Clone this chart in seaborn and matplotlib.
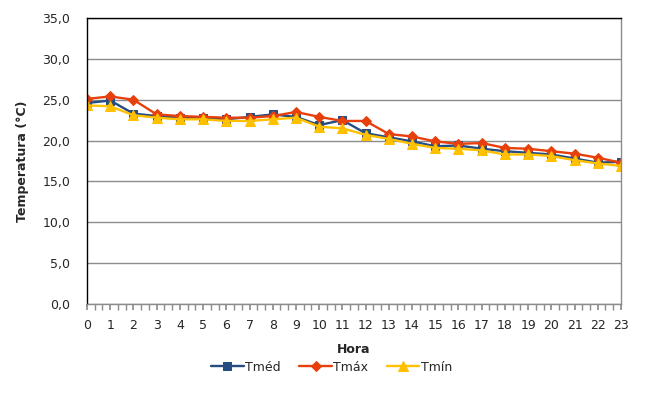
import matplotlib
matplotlib.use('Agg')
import matplotlib.pyplot as plt
import seaborn as sns
import pandas as pd
from matplotlib.ticker import FuncFormatter, MultipleLocator

# dados
horas = list(range(24))
t_med = [24.6, 24.9, 23.3, 23.0, 22.8, 22.8, 22.6, 22.9, 23.2, 22.9, 21.9, 22.5,
         20.9, 20.4, 19.9, 19.3, 19.4, 19.0, 18.7, 18.5, 18.3, 17.8, 17.3, 17.4]
t_max = [25.1, 25.4, 25.0, 23.2, 23.0, 22.9, 22.8, 22.8, 23.0, 23.5, 22.9, 22.4,
         22.4, 20.8, 20.5, 19.9, 19.6, 19.7, 19.1, 19.0, 18.7, 18.4, 17.9, 17.3]
t_min = [24.3, 24.2, 23.1, 22.8, 22.6, 22.6, 22.4, 22.4, 22.6, 22.8, 21.7, 21.5,
         20.7, 20.2, 19.6, 19.1, 19.0, 18.8, 18.3, 18.3, 18.1, 17.6, 17.2, 16.9]

series = [('Tméd', t_med, '#264D82', 's', 5.5),
          ('Tmáx', t_max, '#E8400C', 'D', 5.5),
          ('Tmín', t_min, '#FFC000', '^', 6.5)]

sns.set_theme(style='white')
plt.rcParams['font.family'] = ['DejaVu Sans']

fig = plt.figure(figsize=(6.63, 4.0), dpi=100)
ax = fig.add_axes([0.1312, 0.24, 0.8054, 0.715])

for nome, vals, cor, mk, ms in series:
    df = pd.DataFrame({'Hora': horas, 'T': vals})
    sns.lineplot(data=df, x='Hora', y='T', ax=ax, color=cor, marker=mk,
                 markersize=ms, markeredgecolor=cor, linewidth=1.7, label=nome)

ax.set_xlim(0, 23)
ax.set_ylim(0, 35)
ax.yaxis.set_major_locator(MultipleLocator(5))
ax.xaxis.set_major_locator(MultipleLocator(1))
ax.xaxis.set_minor_locator(MultipleLocator(1 / 3))
ax.yaxis.set_major_formatter(FuncFormatter(lambda v, p: f'{v:.1f}'.replace('.', ',')))
ax.grid(axis='y', color='#8C8C8C', linewidth=1)
ax.set_axisbelow(True)

for s in ['top', 'left']:
    ax.spines[s].set_color('black')
for s in ['bottom', 'right']:
    ax.spines[s].set_color('#8C8C8C')
for s in ax.spines.values():
    s.set_linewidth(1)

ax.tick_params(axis='x', which='both', direction='out', length=4, color='#8C8C8C',
               bottom=True, labelsize=9, pad=7)
ax.tick_params(axis='x', which='minor', length=4)
ax.tick_params(axis='y', length=0, labelsize=9, pad=12)
ax.set_xlabel('Hora', fontsize=9, fontweight='bold', labelpad=8)
ax.set_ylabel('Temperatura (°C)', fontsize=9, fontweight='bold', labelpad=10)

ax.legend().remove()
h, l = ax.get_legend_handles_labels()
fig.legend(h, l, loc='center', bbox_to_anchor=(0.5, 0.082), ncol=3, frameon=False,
           fontsize=9, handlelength=2.6, handletextpad=0.1, columnspacing=1.5)

fig.savefig('out.png', dpi=100, facecolor='white')
